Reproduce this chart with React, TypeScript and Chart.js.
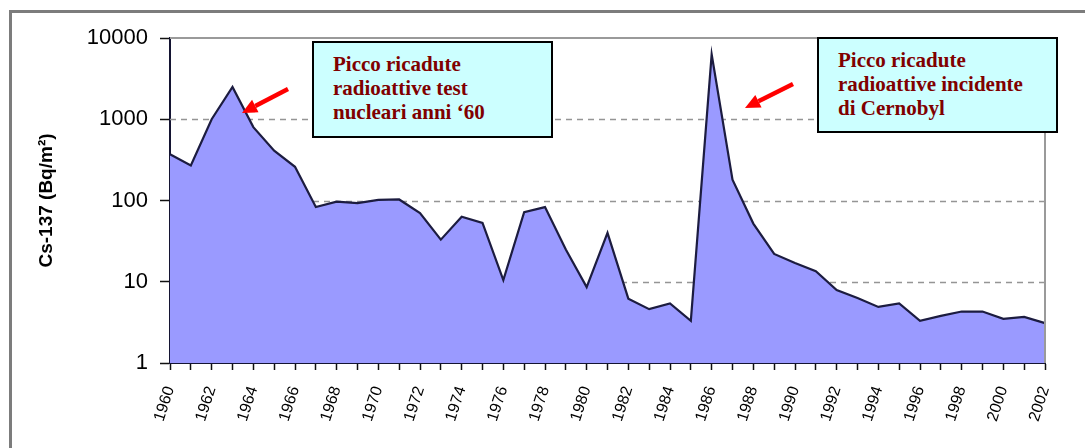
import React, { useEffect, useRef } from "react";
import { Chart, registerables } from "chart.js";

Chart.register(...registerables);

const years = [
  "1960", "1961", "1962", "1963", "1964", "1965", "1966", "1967", "1968", "1969",
  "1970", "1971", "1972", "1973", "1974", "1975", "1976", "1977", "1978", "1979",
  "1980", "1981", "1982", "1983", "1984", "1985", "1986", "1987", "1988", "1989",
  "1990", "1991", "1992", "1993", "1994", "1995", "1996", "1997", "1998", "1999",
  "2000", "2001", "2002",
];
const cs137 = [
  370, 270, 1000, 2500, 800, 410, 260, 83, 97, 93,
  102, 103, 70, 33, 63, 53, 10.5, 72, 83, 25,
  8.6, 40, 6.2, 4.6, 5.4, 3.3, 6300, 180, 52, 22,
  17, 13.5, 7.9, 6.3, 4.9, 5.4, 3.3, 3.8, 4.3, 4.3,
  3.5, 3.7, 3.1,
];
const yTicks = [1, 10, 100, 1000, 10000];
const gridValues = [10, 100, 1000];
const yTitle = "Cs-137 (Bq/m²)";
const note1 = ["Picco ricadute", "radioattive test", "nucleari anni ‘60"];
const note2 = ["Picco ricadute", "radioattive incidente", "di Cernobyl"];

type Arrow = { tail: [number, number]; tip: [number, number] };
const arrows: Arrow[] = [
  { tail: [288, 89], tip: [242, 113] },
  { tail: [793, 84], tip: [745, 108] },
];

function arrowHead(a: Arrow, len: number, half: number) {
  const dx = a.tip[0] - a.tail[0];
  const dy = a.tip[1] - a.tail[1];
  const l = Math.hypot(dx, dy);
  const ux = dx / l, uy = dy / l;
  const bx = a.tip[0] - ux * len, by = a.tip[1] - uy * len;
  const nx = -uy, ny = ux;
  return {
    base: [bx, by],
    pts: `${a.tip[0]},${a.tip[1]} ${bx + nx * half},${by + ny * half} ${bx - nx * half},${by - ny * half}`,
  };
}

const noteStyle = (left: number, top: number, width: number, height: number): React.CSSProperties => ({
  position: "absolute",
  left,
  top,
  width,
  height,
  boxSizing: "border-box",
  border: "2px solid #000",
  background: "#ccffff",
  padding: "9px 0 0 19px",
  fontFamily: "'Liberation Serif', 'Times New Roman', serif",
  fontWeight: "bold",
  fontSize: 21,
  lineHeight: "24px",
  color: "#800000",
  whiteSpace: "nowrap",
});

export default function App() {
  const ref = useRef<HTMLCanvasElement>(null);

  useEffect(() => {
    if (!ref.current) return;
    const framePlugin = {
      id: "framePlugin",
      beforeDatasetsDraw(chart: any) {
        const { ctx, chartArea: a, scales } = chart;
        const y = scales.y;
        ctx.save();
        ctx.strokeStyle = "#959595";
        ctx.lineWidth = 1.5;
        ctx.setLineDash([6, 5]);
        gridValues.forEach((v) => {
          const py = Math.round(y.getPixelForValue(v)) + 0.5;
          ctx.beginPath();
          ctx.moveTo(a.left, py);
          ctx.lineTo(a.right, py);
          ctx.stroke();
        });
        ctx.restore();
      },
      afterDatasetsDraw(chart: any) {
        const { ctx, chartArea: a } = chart;
        ctx.save();
        ctx.strokeStyle = "#9a9a9a";
        ctx.lineWidth = 2;
        ctx.beginPath();
        ctx.moveTo(a.left, a.top);
        ctx.lineTo(a.right, a.top);
        ctx.lineTo(a.right, a.bottom);
        ctx.stroke();
        ctx.restore();
      },
    };

    const chart = new Chart(ref.current, {
      type: "line",
      data: {
        labels: years,
        datasets: [
          {
            data: cs137,
            fill: "start",
            backgroundColor: "#9a9aff",
            borderColor: "#1c1c40",
            borderWidth: 2.2,
            pointRadius: 0,
            tension: 0,
          },
        ],
      },
      options: {
        animation: false,
        responsive: false,
        devicePixelRatio: 1,
        layout: { padding: { left: 0, right: 40, top: 38, bottom: 0 } },
        plugins: { legend: { display: false }, tooltip: { enabled: false } },
        scales: {
          x: {
            type: "category",
            offset: false,
            grid: { drawOnChartArea: false, drawTicks: true, tickLength: 7, tickColor: "#111", tickWidth: 1.5 },
            border: { color: "#141432", width: 2 },
            ticks: {
              autoSkip: false,
              maxRotation: 72,
              minRotation: 72,
              padding: 14,
              color: "#000",
              font: { family: "'Liberation Sans', Arial, sans-serif", size: 16 },
              callback: (_v: any, i: number) => (i % 2 === 0 ? years[i] : ""),
            },
            afterFit: (s: any) => {
              s.height = 85;
            },
          },
          y: {
            type: "logarithmic",
            min: 1,
            max: 10000,
            afterBuildTicks: (s: any) => {
              s.ticks = yTicks.map((v) => ({ value: v }));
            },
            afterFit: (s: any) => {
              s.width = 170;
            },
            grid: { drawOnChartArea: false, drawTicks: true, tickLength: 10, tickColor: "#111", tickWidth: 1.5 },
            border: { color: "#141432", width: 2 },
            ticks: {
              padding: 12,
              color: "#000",
              font: { family: "'Liberation Sans', Arial, sans-serif", size: 22 },
              callback: (v: any) => String(v),
            },
            title: {
              display: true,
              text: yTitle,
              color: "#000",
              font: { family: "'Liberation Sans', Arial, sans-serif", size: 19, weight: "bold" },
              padding: { top: 35, bottom: 0 },
            },
          },
        },
      },
      plugins: [framePlugin],
    } as any);

    return () => chart.destroy();
  }, []);

  return (
    <div
      style={{
        position: "absolute",
        left: 0,
        top: 0,
        width: 1085,
        height: 448,
        overflow: "hidden",
        background: "#fff",
      }}
    >
      <div
        style={{
          position: "absolute",
          left: 9,
          top: 10,
          width: 1200,
          height: 700,
          border: "3px solid #7c7c7c",
          boxSizing: "border-box",
        }}
      />
      <canvas
        ref={ref}
        width={1085}
        height={448}
        style={{ position: "absolute", left: 0, top: 0, width: 1085, height: 448 }}
      />
      <div style={noteStyle(312, 41, 241, 97)}>
        {note1.map((t) => (
          <div key={t}>{t}</div>
        ))}
      </div>
      <div style={noteStyle(817, 37, 241, 96)}>
        {note2.map((t) => (
          <div key={t}>{t}</div>
        ))}
      </div>
      <svg
        width={1085}
        height={448}
        style={{ position: "absolute", left: 0, top: 0, pointerEvents: "none" }}
      >
        {arrows.map((a, i) => {
          const h = arrowHead(a, 15, 7);
          return (
            <g key={i}>
              <line
                x1={a.tail[0]}
                y1={a.tail[1]}
                x2={h.base[0]}
                y2={h.base[1]}
                stroke="#ff0000"
                strokeWidth={4.5}
              />
              <polygon points={h.pts} fill="#ff0000" />
            </g>
          );
        })}
      </svg>
    </div>
  );
}
